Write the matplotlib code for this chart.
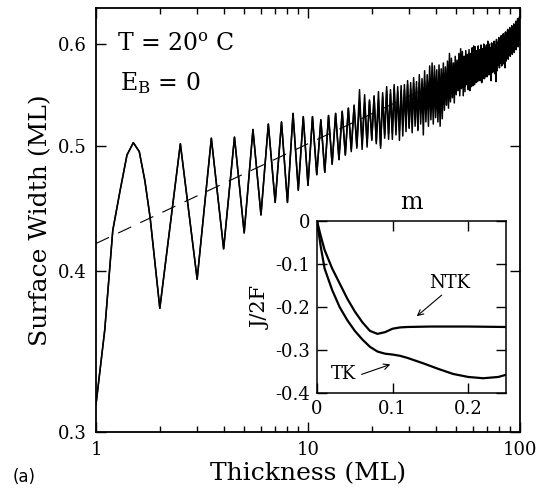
import matplotlib
matplotlib.use('Agg')
import matplotlib.pyplot as plt
from matplotlib.ticker import FixedLocator, FixedFormatter, NullLocator

#Surface width vs film thickness, with inset J/2F vs m

plt.rcParams['font.family'] = 'DejaVu Serif'
plt.rcParams['mathtext.fontset'] = 'dejavuserif'
plt.rcParams['axes.unicode_minus'] = False

# first period sampled every 0.1 ML
firstX = [1.0, 1.1, 1.2, 1.3, 1.4, 1.5, 1.6, 1.7, 1.8, 1.9]
firstW = [0.315, 0.36, 0.43, 0.462, 0.492, 0.503, 0.495, 0.47, 0.44, 0.405]

# minima (at n ML) and maxima (at n+0.5 ML), n = 2..15, same for both runs
earlyTroughs = [0.374, 0.394, 0.416, 0.428, 0.442, 0.452, 0.452, 0.462,
                0.466, 0.475, 0.477, 0.484, 0.488, 0.492]
earlyPeaks = [0.502, 0.507, 0.508, 0.515, 0.520, 0.522, 0.530, 0.527,
              0.527, 0.524, 0.528, 0.530, 0.532, 0.535]

# n = 16..99, run 1
troughs1 = [0.495, 0.500, 0.497, 0.503, 0.505,
            0.502, 0.498, 0.510, 0.506, 0.512, 0.515, 0.505, 0.518, 0.520, 0.516,
            0.524, 0.528, 0.515, 0.531, 0.535, 0.530, 0.538, 0.541, 0.536, 0.543,
            0.530, 0.540, 0.547, 0.542, 0.538, 0.552, 0.546, 0.553, 0.550, 0.556,
            0.553, 0.558, 0.555, 0.547, 0.556, 0.560, 0.553, 0.552, 0.562, 0.557,
            0.563, 0.560, 0.565, 0.562, 0.566, 0.560, 0.567, 0.564, 0.570, 0.566,
            0.571, 0.568, 0.562, 0.570, 0.574, 0.569, 0.561, 0.572, 0.578, 0.575,
            0.580, 0.577, 0.583, 0.579, 0.575, 0.582, 0.588, 0.584, 0.590, 0.587,
            0.592, 0.589, 0.595, 0.591, 0.597, 0.594, 0.600, 0.597, 0.603]
peaks1 = [0.538, 0.553, 0.540, 0.542, 0.546,
          0.543, 0.550, 0.556, 0.553, 0.558, 0.556, 0.552, 0.558, 0.562, 0.560,
          0.565, 0.561, 0.568, 0.564, 0.572, 0.568, 0.577, 0.580, 0.577, 0.573,
          0.578, 0.574, 0.580, 0.576, 0.582, 0.590, 0.585, 0.580, 0.587, 0.583,
          0.590, 0.595, 0.592, 0.587, 0.593, 0.589, 0.594, 0.590, 0.596, 0.591,
          0.597, 0.593, 0.598, 0.594, 0.599, 0.595, 0.600, 0.596, 0.598, 0.594,
          0.599, 0.596, 0.601, 0.597, 0.602, 0.598, 0.603, 0.600, 0.606, 0.602,
          0.608, 0.605, 0.611, 0.607, 0.613, 0.610, 0.616, 0.612, 0.618, 0.615,
          0.620, 0.617, 0.622, 0.619, 0.625, 0.621, 0.628, 0.624, 0.630]

# n = 16..99, run 2
troughs2 = [0.497, 0.498, 0.502, 0.499, 0.506,
            0.504, 0.500, 0.507, 0.511, 0.506, 0.510, 0.514, 0.509, 0.513, 0.517,
            0.512, 0.518, 0.514, 0.520, 0.510, 0.522, 0.518, 0.524, 0.520, 0.526,
            0.522, 0.518, 0.525, 0.533, 0.538, 0.535, 0.541, 0.545, 0.540, 0.548,
            0.552, 0.547, 0.554, 0.557, 0.551, 0.558, 0.554, 0.560, 0.556, 0.562,
            0.558, 0.564, 0.561, 0.566, 0.562, 0.568, 0.564, 0.570, 0.566, 0.572,
            0.568, 0.574, 0.570, 0.576, 0.571, 0.578, 0.574, 0.580, 0.583, 0.579,
            0.585, 0.582, 0.588, 0.585, 0.590, 0.587, 0.592, 0.589, 0.595, 0.592,
            0.597, 0.594, 0.600, 0.597, 0.602, 0.599, 0.605, 0.602, 0.607]
peaks2 = [0.537, 0.541, 0.548, 0.543, 0.547,
          0.551, 0.546, 0.552, 0.549, 0.555, 0.551, 0.557, 0.553, 0.558, 0.554,
          0.559, 0.555, 0.560, 0.556, 0.561, 0.557, 0.562, 0.558, 0.563, 0.559,
          0.564, 0.560, 0.566, 0.569, 0.574, 0.570, 0.577, 0.573, 0.580, 0.576,
          0.583, 0.579, 0.586, 0.582, 0.588, 0.584, 0.590, 0.586, 0.592, 0.598,
          0.594, 0.590, 0.596, 0.592, 0.597, 0.593, 0.598, 0.594, 0.599, 0.603,
          0.600, 0.596, 0.601, 0.597, 0.603, 0.599, 0.605, 0.601, 0.607, 0.603,
          0.609, 0.605, 0.611, 0.607, 0.613, 0.609, 0.615, 0.611, 0.617, 0.613,
          0.619, 0.615, 0.621, 0.618, 0.623, 0.620, 0.626, 0.622, 0.628]
endW1 = 0.615
endW2 = 0.62

# power law guide line
dashX = [1, 100]
dashW = [0.42, 0.60]

yTicks = [0.3, 0.4, 0.5, 0.6]
yTickLabels = ['0.3', '0.4', '0.5', '0.6']
xTicks = [1, 10, 100]
xTickLabels = ['1', '10', '100']
xMinor = [2, 3, 4, 5, 6, 7, 8, 9, 20, 30, 40, 50, 60, 70, 80, 90]

# inset
mNTK = [0, 0.005, 0.01, 0.02, 0.03, 0.04, 0.05, 0.06, 0.07, 0.08, 0.09,
        0.10, 0.11, 0.12, 0.15, 0.20, 0.25]
jNTK = [0, -0.035, -0.067, -0.11, -0.145, -0.18, -0.21, -0.235, -0.255,
        -0.262, -0.258, -0.25, -0.247, -0.246, -0.245, -0.245, -0.246]
mTK = [0, 0.005, 0.01, 0.02, 0.03, 0.04, 0.05, 0.06, 0.07, 0.08, 0.09, 0.10,
       0.11, 0.12, 0.14, 0.16, 0.18, 0.20, 0.22, 0.24, 0.25]
jTK = [0, -0.06, -0.11, -0.16, -0.2, -0.23, -0.255, -0.275, -0.292, -0.303,
       -0.308, -0.31, -0.313, -0.318, -0.33, -0.343, -0.355, -0.362, -0.365,
       -0.362, -0.357]
insXTicks = [0, 0.1, 0.2]
insXTickLabels = ['0', '0.1', '0.2']
insYTicks = [0, -0.1, -0.2, -0.3, -0.4]
insYTickLabels = ['0', '-0.1', '-0.2', '-0.3', '-0.4']


def buildSeries(troughs, peaks, endW):
    x = list(firstX)
    w = list(firstW)
    for i, (t, p) in enumerate(zip(troughs, peaks)):
        n = i + 2
        x += [n, n + 0.5]
        w += [t, p]
    x.append(100)
    w.append(endW)
    return x, w


def main():
    x1, w1 = buildSeries(earlyTroughs + troughs1, earlyPeaks + peaks1, endW1)
    x2, w2 = buildSeries(earlyTroughs + troughs2, earlyPeaks + peaks2, endW2)

    fig = plt.figure(figsize=(5.43, 4.98), dpi=100)
    ax = fig.add_axes([0.1768, 0.1333, 0.7808, 0.8507])
    ax.set_xscale('log')
    ax.set_yscale('log')
    ax.plot(dashX, dashW, color='k', lw=0.8, dashes=(13, 9))
    ax.plot(x1, w1, color='k', lw=1.1)
    ax.plot(x2, w2, color='k', lw=1.1)
    ax.set_xlim(1, 100)
    ax.set_ylim(0.3, 0.64)

    ax.yaxis.set_major_locator(FixedLocator(yTicks))
    ax.yaxis.set_major_formatter(FixedFormatter(yTickLabels))
    ax.yaxis.set_minor_locator(NullLocator())
    ax.xaxis.set_major_locator(FixedLocator(xTicks))
    ax.xaxis.set_major_formatter(FixedFormatter(xTickLabels))
    ax.xaxis.set_minor_locator(FixedLocator(xMinor))
    ax.xaxis.set_minor_formatter(FixedFormatter([''] * len(xMinor)))
    ax.tick_params(which='both', direction='in', top=True, right=True,
                   labelsize=13, pad=7)
    ax.tick_params(which='major', length=7, width=1)
    ax.tick_params(which='minor', length=4, width=1)
    for s in ax.spines.values():
        s.set_linewidth(1.3)
    ax.set_xlabel('Thickness (ML)', fontsize=18, labelpad=2)
    ax.set_ylabel('Surface Width (ML)', fontsize=18, labelpad=4)

    ax.text(0.05, 0.913, 'T = 20$^{\\rm o}$ C', transform=ax.transAxes,
            fontsize=17, va='center')
    ax.text(0.057, 0.823, 'E$_{\\rm B}$ = 0', transform=ax.transAxes,
            fontsize=17, va='center')

    fig.text(0.024, 0.042, '(a)', family='DejaVu Sans', fontsize=12,
             va='center')

    #Inset
    ins = fig.add_axes([0.5838, 0.2102, 0.348, 0.346])
    ins.plot(mNTK, jNTK, color='k', lw=1.6)
    ins.plot(mTK, jTK, color='k', lw=1.6)
    ins.set_xlim(0, 0.25)
    ins.set_ylim(-0.4, 0)
    ins.xaxis.set_major_locator(FixedLocator(insXTicks))
    ins.xaxis.set_major_formatter(FixedFormatter(insXTickLabels))
    ins.yaxis.set_major_locator(FixedLocator(insYTicks))
    ins.yaxis.set_major_formatter(FixedFormatter(insYTickLabels))
    ins.tick_params(direction='in', top=True, right=True, length=7,
                    width=1, labelsize=13, pad=5)
    for s in ins.spines.values():
        s.set_linewidth(1.1)
    ins.text(0.5, 1.04, 'm', transform=ins.transAxes, ha='center',
             va='bottom', fontsize=17)
    ins.set_ylabel('J/2F', fontsize=15, labelpad=3)

    ins.text(0.176, -0.144, 'NTK', ha='center', va='center', fontsize=13)
    ins.annotate('', xy=(0.132, -0.221), xytext=(0.165, -0.172),
                 arrowprops=dict(arrowstyle='->', lw=0.8,
                                 shrinkA=0, shrinkB=0))
    ins.text(0.035, -0.354, 'TK', ha='center', va='center', fontsize=13)
    ins.annotate('', xy=(0.097, -0.333), xytext=(0.059, -0.356),
                 arrowprops=dict(arrowstyle='->', lw=0.8,
                                 shrinkA=0, shrinkB=0))

    fig.savefig('out.png', dpi=100)
    plt.close(fig)


if __name__ == '__main__':
    main()
